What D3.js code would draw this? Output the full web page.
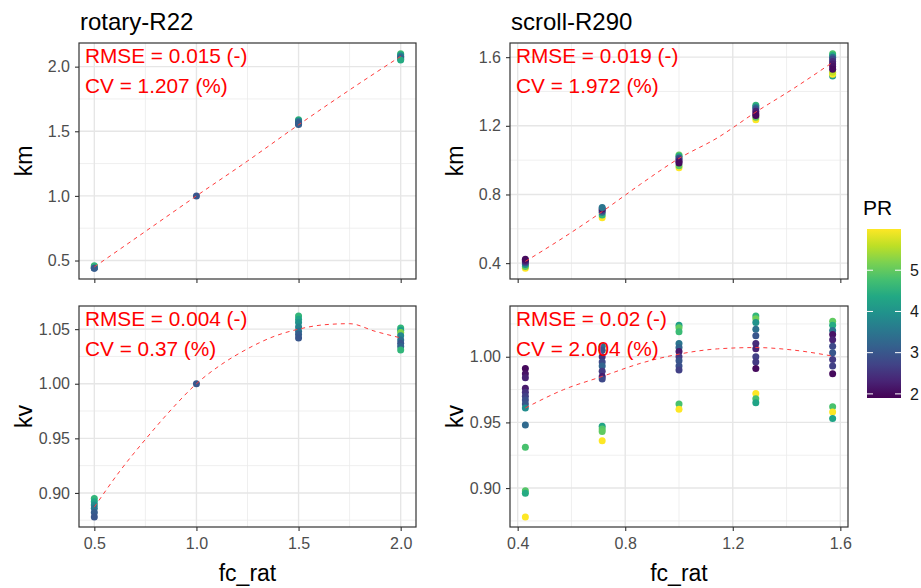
<!DOCTYPE html>
<html lang="en">
<head>
<meta charset="UTF-8">
<title>fc_rat vs km / kv</title>
<script src="https://d3js.org/d3.v7.min.js"></script>
<style>
  body { margin: 0; background: #fff; }
  text { font-family: "Liberation Sans", Arial, sans-serif; }
</style>
</head>
<body>
<div id="chart"></div>
<script>
// points are [fc_rat, value, PR]
const rotaryKm = [
  [0.5, 0.440, 3.0], [0.5, 0.445, 3.4], [0.5, 0.452, 4.0], [0.5, 0.460, 4.6], [0.5, 0.443, 3.1],
  [1.0, 1.000, 3.0],
  [1.5, 1.590, 4.6], [1.5, 1.582, 4.1], [1.5, 1.575, 3.6], [1.5, 1.567, 3.2], [1.5, 1.558, 3.0], [1.5, 1.552, 3.1],
  [2.0, 2.100, 4.8], [2.0, 2.092, 4.3], [2.0, 2.080, 3.7], [2.0, 2.070, 3.3], [2.0, 2.060, 3.0], [2.0, 2.052, 4.4]
];
const rotaryKmFit = [[0.5, 0.45], [0.75, 0.725], [1.0, 1.0], [1.25, 1.27], [1.5, 1.55], [1.75, 1.82], [2.0, 2.08]];

const rotaryKv = [
  [0.5, 0.895, 4.6], [0.5, 0.892, 4.3], [0.5, 0.889, 3.9], [0.5, 0.886, 3.5], [0.5, 0.882, 3.1], [0.5, 0.878, 3.0],
  [1.0, 1.000, 3.0],
  [1.5, 1.062, 4.6], [1.5, 1.059, 4.3], [1.5, 1.056, 4.0], [1.5, 1.052, 3.7], [1.5, 1.048, 3.4], [1.5, 1.045, 3.1], [1.5, 1.042, 3.0],
  [2.0, 1.051, 4.6], [2.0, 1.049, 4.2], [2.0, 1.047, 5.2], [2.0, 1.044, 3.8], [2.0, 1.040, 3.4], [2.0, 1.037, 3.0], [2.0, 1.034, 3.2], [2.0, 1.031, 4.6]
];
const rotaryKvFit = [[0.5, 0.887], [0.625, 0.92], [0.75, 0.949], [0.875, 0.976], [1.0, 1.0], [1.125, 1.018], [1.25, 1.032],
  [1.375, 1.043], [1.5, 1.050], [1.625, 1.054], [1.75, 1.055], [1.875, 1.048], [2.0, 1.042]];

const scrollKm = [
  [0.4286, 0.370, 6.0], [0.4286, 0.380, 5.0], [0.4286, 0.392, 4.0], [0.4286, 0.402, 3.0], [0.4286, 0.410, 2.5], [0.4286, 0.416, 2.2], [0.4286, 0.422, 2.0],
  [0.7143, 0.665, 6.0], [0.7143, 0.680, 4.6], [0.7143, 0.696, 3.3], [0.7143, 0.706, 2.6], [0.7143, 0.715, 2.1], [0.7143, 0.724, 3.5],
  [1.0, 0.955, 6.0], [1.0, 0.968, 5.0], [1.0, 1.030, 5.0], [1.0, 1.022, 4.4], [1.0, 1.012, 3.0], [1.0, 1.002, 2.6], [1.0, 0.992, 2.1], [1.0, 0.984, 2.0],
  [1.2857, 1.235, 6.0], [1.2857, 1.250, 5.0], [1.2857, 1.320, 4.6], [1.2857, 1.310, 3.8], [1.2857, 1.300, 3.0], [1.2857, 1.285, 2.3], [1.2857, 1.270, 2.1], [1.2857, 1.260, 2.0],
  [1.5714, 1.490, 4.2], [1.5714, 1.500, 6.0], [1.5714, 1.512, 5.6], [1.5714, 1.620, 4.8], [1.5714, 1.610, 4.4], [1.5714, 1.600, 3.4], [1.5714, 1.590, 2.8],
  [1.5714, 1.575, 2.4], [1.5714, 1.560, 2.2], [1.5714, 1.545, 2.1], [1.5714, 1.530, 2.0]
];
const scrollKmFit = [[0.4286, 0.41], [0.5714, 0.55], [0.7143, 0.70], [0.8571, 0.86], [1.0, 1.01], [1.1429, 1.13],
  [1.2857, 1.28], [1.4286, 1.42], [1.5714, 1.57]];

const scrollKv = [
  [0.4286, 0.991, 2.0], [0.4286, 0.987, 2.1], [0.4286, 0.984, 2.3], [0.4286, 0.976, 2.2], [0.4286, 0.973, 2.5], [0.4286, 0.970, 2.7],
  [0.4286, 0.967, 2.9], [0.4286, 0.964, 3.0], [0.4286, 0.961, 3.9], [0.4286, 0.948, 3.3], [0.4286, 0.931, 4.8], [0.4286, 0.898, 4.9],
  [0.4286, 0.896, 4.4], [0.4286, 0.878, 6.0],
  [0.7143, 1.008, 3.3], [0.7143, 1.005, 3.0], [0.7143, 1.000, 2.5], [0.7143, 0.996, 2.8], [0.7143, 0.993, 3.2], [0.7143, 0.989, 2.6],
  [0.7143, 0.985, 2.2], [0.7143, 0.983, 2.8], [0.7143, 0.947, 4.3], [0.7143, 0.945, 4.9], [0.7143, 0.943, 5.0], [0.7143, 0.936, 6.0],
  [1.0, 1.024, 4.2], [1.0, 1.022, 5.0], [1.0, 1.019, 4.7], [1.0, 1.010, 3.5], [1.0, 1.007, 3.2], [1.0, 1.004, 2.2], [1.0, 1.000, 2.6],
  [1.0, 0.997, 3.0], [1.0, 0.993, 2.9], [1.0, 0.990, 2.7], [1.0, 0.964, 4.8], [1.0, 0.960, 6.0],
  [1.2857, 1.031, 4.6], [1.2857, 1.029, 5.1], [1.2857, 1.026, 4.0], [1.2857, 1.021, 3.4], [1.2857, 1.016, 3.0], [1.2857, 1.010, 2.4],
  [1.2857, 1.006, 2.3], [1.2857, 1.000, 2.7], [1.2857, 0.996, 2.6], [1.2857, 0.991, 2.0], [1.2857, 0.972, 6.0], [1.2857, 0.968, 4.8], [1.2857, 0.965, 4.3],
  [1.5714, 1.027, 5.0], [1.5714, 1.024, 4.4], [1.5714, 1.020, 3.5], [1.5714, 1.017, 2.1], [1.5714, 1.013, 2.3], [1.5714, 1.008, 2.8],
  [1.5714, 1.003, 3.0], [1.5714, 0.998, 2.6], [1.5714, 0.993, 2.7], [1.5714, 0.987, 2.0], [1.5714, 0.962, 4.8], [1.5714, 0.958, 6.0], [1.5714, 0.953, 4.3]
];
const scrollKvFit = [[0.4286, 0.961], [0.5714, 0.975], [0.7143, 0.985], [0.8571, 0.995], [1.0, 1.002], [1.1429, 1.006],
  [1.2857, 1.007], [1.4286, 1.005], [1.5714, 1.0005]];

const titles = ['rotary-R22', 'scroll-R290'];
const rotaryXTicks = [0.5, 1.0, 1.5, 2.0];
const scrollXTicks = [0.4, 0.8, 1.2, 1.6];
const rotaryKmTicks = [0.5, 1.0, 1.5, 2.0];
const scrollKmTicks = [0.4, 0.8, 1.2, 1.6];
const rotaryKvTicks = [0.90, 0.95, 1.00, 1.05];
const scrollKvTicks = [0.90, 0.95, 1.00];
const statsText = [
  ['RMSE = 0.015 (-)', 'CV = 1.207 (%)'],
  ['RMSE = 0.019 (-)', 'CV = 1.972 (%)'],
  ['RMSE = 0.004 (-)', 'CV = 0.37 (%)'],
  ['RMSE = 0.02 (-)', 'CV = 2.004 (%)']
];
const prRange = [1.9, 6.0];
const prTicks = [2, 3, 4, 5];

const W = 921, H = 588;
const svg = d3.select('#chart').append('svg')
  .attr('width', W)
  .attr('height', H);

const color = d3.scaleSequential(d3.interpolateViridis).domain(prRange);

const panels = [
  { x: 79, y: 43, w: 337, h: 236, pts: rotaryKm, fit: rotaryKmFit, xt: rotaryXTicks, yt: rotaryKmTicks, fmt: '.1f', ylab: 'km', title: titles[0], stats: statsText[0], bottom: false },
  { x: 510, y: 43, w: 338, h: 236, pts: scrollKm, fit: scrollKmFit, xt: scrollXTicks, yt: scrollKmTicks, fmt: '.1f', ylab: 'km', title: titles[1], stats: statsText[1], bottom: false },
  { x: 79, y: 306, w: 337, h: 221, pts: rotaryKv, fit: rotaryKvFit, xt: rotaryXTicks, yt: rotaryKvTicks, fmt: '.2f', ylab: 'kv', stats: statsText[2], bottom: true },
  { x: 510, y: 306, w: 338, h: 221, pts: scrollKv, fit: scrollKvFit, xt: scrollXTicks, yt: scrollKvTicks, fmt: '.2f', ylab: 'kv', stats: statsText[3], bottom: true }
];

// ggplot style 5% expansion
function expand(vals) {
  const [lo, hi] = d3.extent(vals);
  const pad = (hi - lo) * 0.05;
  return [lo - pad, hi + pad];
}

function minorOf(ticks, dom) {
  const step = ticks[1] - ticks[0];
  const out = [];
  for (let i = -1; i < ticks.length; i++) {
    const v = ticks[0] + step * (i + 0.5);
    if (v > dom[0] && v < dom[1]) out.push(v);
  }
  return out;
}

panels.forEach(p => {
  const xs = d3.scaleLinear().domain(expand(p.pts.map(d => d[0]))).range([p.x, p.x + p.w]);
  const ys = d3.scaleLinear().domain(expand(p.pts.map(d => d[1]).concat(p.fit.map(d => d[1])))).range([p.y + p.h, p.y]);
  const g = svg.append('g');

  // grid
  const grid = g.append('g');
  minorOf(p.xt, xs.domain()).forEach(v => grid.append('line')
    .attr('x1', xs(v)).attr('x2', xs(v)).attr('y1', p.y).attr('y2', p.y + p.h)
    .attr('stroke', '#ebebeb').attr('stroke-width', 0.8));
  minorOf(p.yt, ys.domain()).forEach(v => grid.append('line')
    .attr('y1', ys(v)).attr('y2', ys(v)).attr('x1', p.x).attr('x2', p.x + p.w)
    .attr('stroke', '#ebebeb').attr('stroke-width', 0.8));
  p.xt.forEach(v => grid.append('line')
    .attr('x1', xs(v)).attr('x2', xs(v)).attr('y1', p.y).attr('y2', p.y + p.h)
    .attr('stroke', '#e6e6e6').attr('stroke-width', 1.4));
  p.yt.forEach(v => grid.append('line')
    .attr('y1', ys(v)).attr('y2', ys(v)).attr('x1', p.x).attr('x2', p.x + p.w)
    .attr('stroke', '#e6e6e6').attr('stroke-width', 1.4));

  // points
  g.append('g').selectAll('circle')
    .data(p.pts)
    .enter()
    .append('circle')
    .attr('cx', d => xs(d[0]))
    .attr('cy', d => ys(d[1]))
    .attr('r', 3.5)
    .attr('fill', d => color(d[2]));

  // fitted line
  g.append('path')
    .datum(p.fit)
    .attr('d', d3.line().x(d => xs(d[0])).y(d => ys(d[1])).curve(d3.curveMonotoneX))
    .attr('fill', 'none')
    .attr('stroke', '#ff3b3b')
    .attr('stroke-width', 1)
    .attr('stroke-dasharray', '4,4');

  // border
  g.append('rect')
    .attr('x', p.x).attr('y', p.y).attr('width', p.w).attr('height', p.h)
    .attr('fill', 'none').attr('stroke', '#333').attr('stroke-width', 1.2);

  // axes
  const ax = g.append('g').attr('transform', `translate(0,${p.y + p.h})`)
    .call(d3.axisBottom(xs).tickValues(p.xt).tickSize(4).tickPadding(7)
      .tickFormat(p.bottom ? d3.format('.1f') : ''));
  const ay = g.append('g').attr('transform', `translate(${p.x},0)`)
    .call(d3.axisLeft(ys).tickValues(p.yt).tickSize(4).tickPadding(5).tickFormat(d3.format(p.fmt)));
  [ax, ay].forEach(a => {
    a.select('.domain').remove();
    a.selectAll('.tick line').attr('stroke', '#333').attr('stroke-width', 1.1);
    a.selectAll('.tick text').attr('fill', '#4d4d4d').style('font-size', '16px')
      .style('font-family', '"Liberation Sans", Arial, sans-serif');
  });

  // y title
  g.append('text')
    .attr('transform', `translate(${p.x - 47},${p.y + p.h / 2}) rotate(-90)`)
    .attr('text-anchor', 'middle')
    .attr('font-size', '23px')
    .text(p.ylab);

  if (p.bottom) {
    g.append('text')
      .attr('x', p.x + p.w / 2)
      .attr('y', 581)
      .attr('text-anchor', 'middle')
      .attr('font-size', '23px')
      .text('fc_rat');
  }
  if (p.title) {
    g.append('text')
      .attr('x', p.x + 1)
      .attr('y', 30)
      .attr('font-size', '24px')
      .text(p.title);
  }

  // stats
  p.stats.forEach((s, i) => {
    g.append('text')
      .attr('x', p.x + 6)
      .attr('y', p.y + 20 + i * 30)
      .attr('font-size', '20.8px')
      .attr('fill', '#ff0000')
      .text(s);
  });
});

// colour bar legend
const lg = svg.append('g');
const barTop = 229, barBottom = 398, barX = 867, barW = 34;
const ls = d3.scaleLinear().domain(prRange).range([barBottom, barTop]);
const grad = svg.append('defs').append('linearGradient')
  .attr('id', 'prGrad').attr('x1', 0).attr('x2', 0).attr('y1', 1).attr('y2', 0);
d3.range(0, 1.0001, 0.1).forEach(t => grad.append('stop')
  .attr('offset', t).attr('stop-color', d3.interpolateViridis(t)));
lg.append('rect')
  .attr('x', barX).attr('y', barTop).attr('width', barW).attr('height', barBottom - barTop)
  .attr('fill', 'url(#prGrad)');
prTicks.forEach(v => {
  lg.append('line').attr('x1', barX).attr('x2', barX + 6).attr('y1', ls(v)).attr('y2', ls(v))
    .attr('stroke', '#fff').attr('stroke-width', 1);
  lg.append('line').attr('x1', barX + barW - 6).attr('x2', barX + barW).attr('y1', ls(v)).attr('y2', ls(v))
    .attr('stroke', '#fff').attr('stroke-width', 1);
  lg.append('text').attr('x', 910).attr('y', ls(v)).attr('dy', '0.36em')
    .attr('font-size', '16px').attr('fill', '#1a1a1a').text(v);
});
lg.append('text').attr('x', 863).attr('y', 215).attr('font-size', '21px').text('PR');
</script>
</body>
</html>
